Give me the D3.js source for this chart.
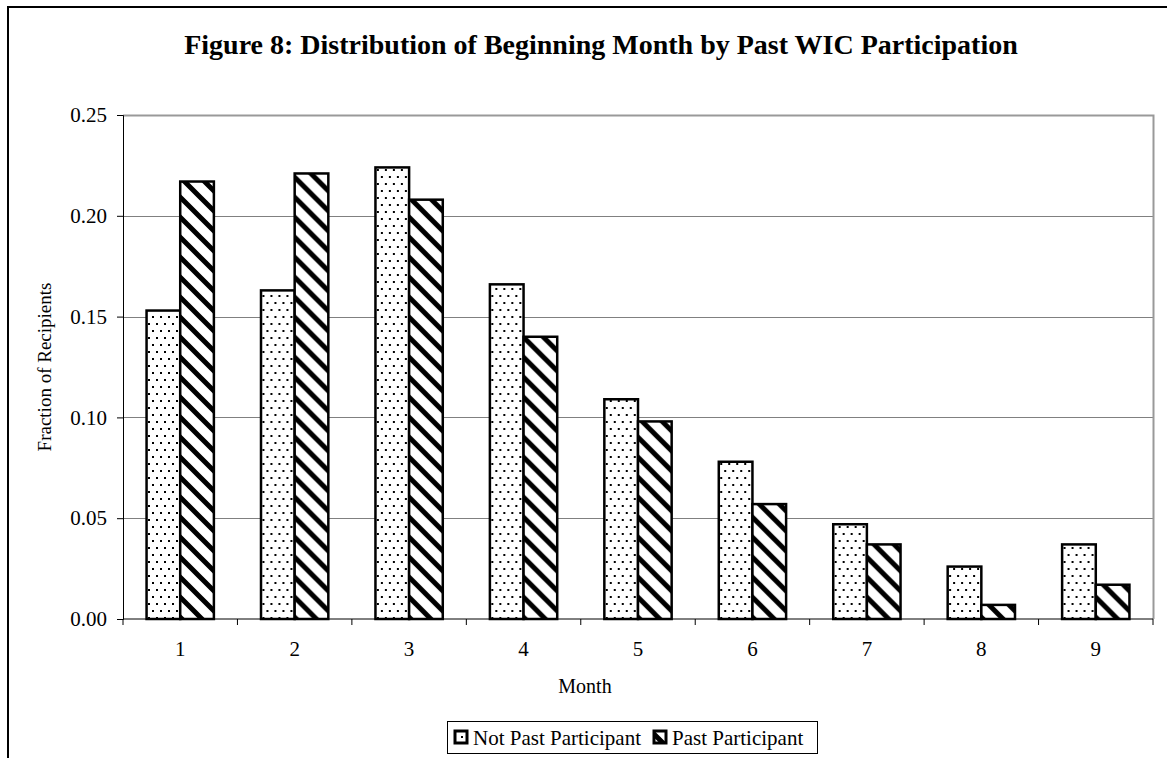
<!DOCTYPE html>
<html>
<head>
<meta charset="utf-8">
<script src="https://cdn.jsdelivr.net/npm/d3@7.9.0/dist/d3.min.js"></script>
<style>
  body { margin: 0; background: #fff; }
  svg { display: block; }
  svg text { font-family: "Liberation Serif", "Times New Roman", serif; fill: #000; }
</style>
</head>
<body>
<svg id="chart" width="1167" height="758"></svg>
<script>
const months = ['1', '2', '3', '4', '5', '6', '7', '8', '9'];
const notPast = [0.153, 0.163, 0.224, 0.166, 0.109, 0.078, 0.047, 0.026, 0.037];
const past = [0.217, 0.221, 0.208, 0.140, 0.098, 0.057, 0.037, 0.007, 0.017];
const seriesNames = ['Not Past Participant', 'Past Participant'];
const yTicks = [0, 0.05, 0.10, 0.15, 0.20, 0.25];

const serif = '"Liberation Serif", "Times New Roman", serif';
const svg = d3.select('#chart');
const fills = ['url(#dots)', 'url(#hatch)'];

// patterns
const defs = svg.append('defs');
const dots = defs.append('pattern').attr('id', 'dots')
    .attr('patternUnits', 'userSpaceOnUse').attr('width', 8).attr('height', 14);
dots.append('rect').attr('width', 8).attr('height', 14).attr('fill', '#fff');
dots.append('rect').attr('x', 1).attr('y', 1).attr('width', 2).attr('height', 2).attr('fill', '#000');
dots.append('rect').attr('x', 5).attr('y', 8).attr('width', 2).attr('height', 2).attr('fill', '#000');

const hatch = defs.append('pattern').attr('id', 'hatch')
    .attr('patternUnits', 'userSpaceOnUse').attr('width', 20).attr('height', 20);
hatch.append('rect').attr('width', 20).attr('height', 20).attr('fill', '#fff');
hatch.append('path').attr('d', 'M-5,-5 L25,25 M-5,15 L5,25 M15,-5 L25,5')
    .attr('stroke', '#000').attr('stroke-width', 5);

// outer frame
svg.append('rect').attr('x', 8).attr('y', 7).attr('width', 1180).attr('height', 800)
    .attr('fill', 'none').attr('stroke', '#000').attr('stroke-width', 2);

svg.append('text').attr('x', 601).attr('y', 54).attr('text-anchor', 'middle')
    .attr('font-family', serif).attr('font-size', 28).attr('font-weight', 'bold')
    .text('Figure 8: Distribution of Beginning Month by Past WIC Participation');

const plotLeft = 123, plotRight = 1153, plotTop = 115, plotBottom = 619;

const x = d3.scaleBand().domain(months).range([plotLeft, plotRight]).padding(0);
const xInner = d3.scaleBand().domain(seriesNames).range([0, x.bandwidth()])
    .paddingInner(0).paddingOuter(0.7);
const y = d3.scaleLinear().domain([0, 0.25]).range([plotBottom, plotTop]);

// gridlines
svg.append('g').selectAll('line').data(yTicks.slice(1, -1)).join('line')
    .attr('x1', plotLeft).attr('x2', plotRight)
    .attr('y1', d => Math.round(y(d)) + 0.5).attr('y2', d => Math.round(y(d)) + 0.5)
    .attr('stroke', '#808080').attr('stroke-width', 1);
// plot area border top/right
svg.append('path')
    .attr('d', `M${plotLeft},${plotTop + 0.5} H${plotRight + 0.5} V${plotBottom}`)
    .attr('fill', 'none').attr('stroke', '#999').attr('stroke-width', 2);

// bars
const data = months.map((m, i) => ({ month: m, values: [notPast[i], past[i]] }));
svg.append('g').selectAll('g').data(data).join('g')
    .attr('transform', d => `translate(${x(d.month)},0)`)
    .selectAll('rect').data(d => d.values.map((v, k) => ({ v, k })))
    .join('rect')
    .attr('x', d => xInner(seriesNames[d.k]))
    .attr('y', d => y(d.v))
    .attr('width', xInner.bandwidth())
    .attr('height', d => y(0) - y(d.v))
    .attr('fill', d => fills[d.k])
    .attr('stroke', '#000').attr('stroke-width', 2.5);

// y axis
const yAxis = svg.append('g').attr('transform', `translate(${plotLeft},0)`)
    .call(d3.axisLeft(y).tickValues(yTicks).tickFormat(d3.format('.2f')).tickSize(6).tickPadding(10));
yAxis.attr('font-family', serif).attr('font-size', 21);
yAxis.select('.domain').attr('stroke', '#000');
yAxis.selectAll('text').attr('font-family', serif).attr('font-size', 21);

// x axis
const xAxis = svg.append('g').attr('transform', `translate(0,${plotBottom})`);
xAxis.append('line').attr('x1', plotLeft).attr('x2', plotRight).attr('stroke', '#000');
xAxis.selectAll('line.tick').data(months.concat(['end'])).join('line')
    .attr('class', 'tick')
    .attr('x1', (d, i) => plotLeft + i * x.step()).attr('x2', (d, i) => plotLeft + i * x.step())
    .attr('y1', 0).attr('y2', 6).attr('stroke', '#000');
xAxis.selectAll('text').data(months).join('text')
    .attr('x', d => x(d) + x.bandwidth() / 2).attr('y', 37)
    .attr('text-anchor', 'middle').attr('font-family', serif).attr('font-size', 21).text(d => d);

svg.append('text').attr('x', 585).attr('y', 693).attr('text-anchor', 'middle')
    .attr('font-family', serif).attr('font-size', 20).text('Month');
svg.append('text').attr('transform', 'translate(51,367) rotate(-90)')
    .attr('text-anchor', 'middle').attr('font-family', serif).attr('font-size', 19)
    .text('Fraction of Recipients');

// legend
const legend = svg.append('g');
legend.append('rect').attr('x', 447.5).attr('y', 721.5).attr('width', 370).attr('height', 32)
    .attr('fill', '#fff').attr('stroke', '#000').attr('stroke-width', 1);
const legendX = [455, 654];
seriesNames.forEach((name, k) => {
    legend.append('rect').attr('x', legendX[k]).attr('y', 731).attr('width', 12).attr('height', 12)
        .attr('fill', fills[k]).attr('stroke', '#000').attr('stroke-width', 3);
    legend.append('text').attr('x', legendX[k] + 18).attr('y', 745)
        .attr('font-family', serif).attr('font-size', 21).text(name);
});
</script>
</body>
</html>
